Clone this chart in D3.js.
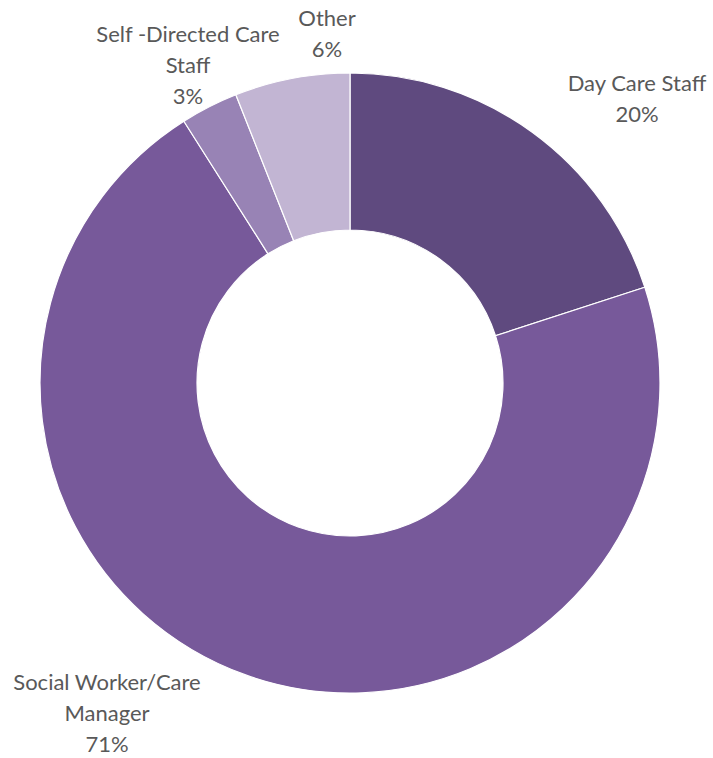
<!DOCTYPE html>
<html>
<head>
<meta charset="utf-8">
<script src="https://cdn.jsdelivr.net/npm/d3@7"></script>
<style>
  html, body { margin: 0; padding: 0; background: #fff; }
  svg text { font-family: Lato, "Open Sans", sans-serif; fill: #595959; font-size: 22px; }
</style>
</head>
<body>
<svg id="chart" width="713" height="758"></svg>
<script>
// Staff roles and their share of respondents (percent)
const categories = ["Day Care Staff", "Social Worker/Care Manager", "Self -Directed Care Staff", "Other"];
const values = [20, 71, 3, 6];
const colors = ["#5f4a7f", "#77599a", "#9883b5", "#c2b5d3"];
// Label lines as shown (text wrapped the same way)
const labelLines = [
  ["Day Care Staff"],
  ["Social Worker/Care", "Manager"],
  ["Self -Directed Care", "Staff"],
  ["Other"]
];
// Label anchor (centre x, baseline of first line) in chart coordinates
const labelAnchors = [[637, 91], [107, 690], [188, 42], [327, 26]];

const svg = d3.select("#chart");
const cx = 350, cy = 383, outerR = 310, innerR = 153;
const g = svg.append("g").attr("transform", `translate(${cx},${cy})`);

const pie = d3.pie().sort(null).value(d => d)(values);
const arc = d3.arc().innerRadius(innerR).outerRadius(outerR);

g.selectAll("path.slice")
  .data(pie)
  .join("path")
  .attr("class", "slice")
  .attr("d", arc)
  .attr("fill", (d, i) => colors[i])
  .attr("stroke", "#ffffff")
  .attr("stroke-width", 1.2);

const lineH = 31;
categories.forEach((c, i) => {
  const [x, y] = labelAnchors[i];
  const t = svg.append("text").attr("text-anchor", "middle");
  const lines = labelLines[i].concat([values[i] + "%"]);
  lines.forEach((ln, k) => {
    t.append("tspan").attr("x", x).attr("y", y + k * lineH).text(ln);
  });
});
</script>
</body>
</html>
